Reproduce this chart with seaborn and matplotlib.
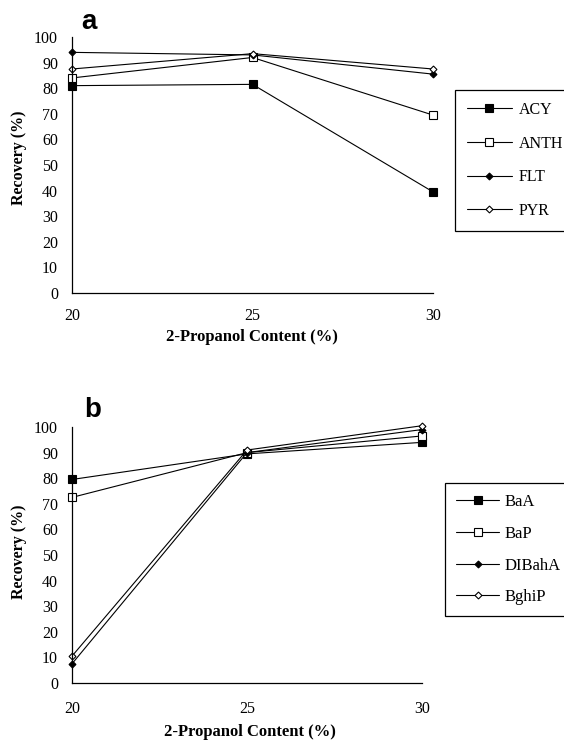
import matplotlib
matplotlib.use("Agg")
import matplotlib.pyplot as plt
import seaborn as sns
import pandas as pd

sns.set_theme(style="white")
plt.rcParams['font.family'] = ['Liberation Serif', 'DejaVu Serif']
plt.rcParams['text.color'] = 'black'
plt.rcParams['axes.labelcolor'] = 'black'
plt.rcParams['legend.labelcolor'] = 'black'

propanol = [20, 25, 30]

# panel a
names_a = ["ACY", "ANTH", "FLT", "PYR"]
acy = [81, 81.5, 39.5]
anth = [84, 92, 69.5]
flt = [94, 93, 85.5]
pyr = [87.5, 93.5, 87.5]

# panel b
names_b = ["BaA", "BaP", "DIBahA", "BghiP"]
baa = [79.5, 89.5, 94]
bap = [72.5, 90, 96.5]
dibaha = [7.5, 90, 99]
bghip = [10.5, 91, 100.5]

yticks = [0, 10, 20, 30, 40, 50, 60, 70, 80, 90, 100]
xticks = [20, 25, 30]

styles = [
    dict(marker="s", mfc="black", ms=5.5),
    dict(marker="s", mfc="white", ms=5.5),
    dict(marker="D", mfc="black", ms=3.5),
    dict(marker="D", mfc="white", ms=3.5),
]

W, H = 564, 740
fig = plt.figure(figsize=(W / 100, H / 100), dpi=100)

def make_axes(left, right, top, bottom):
    return fig.add_axes([left / W, 1 - bottom / H, (right - left) / W, (bottom - top) / H])

ax_a = make_axes(72, 433, 37, 293)
ax_b = make_axes(72, 422, 427, 683)

def draw(ax, series, names, legend_xy, leg_kw, xpad):
    for vals, name, st in zip(series, names, styles):
        df = pd.DataFrame({"x": propanol, "y": vals})
        sns.lineplot(data=df, x="x", y="y", ax=ax, color="black", lw=0.8,
                     marker=st["marker"], markerfacecolor=st["mfc"],
                     markeredgecolor="black", markeredgewidth=0.8,
                     markersize=st["ms"], label=name, clip_on=False)
    ax.set_xlim(20, 30)
    ax.set_ylim(0, 100)
    ax.set_xticks(xticks)
    ax.set_yticks(yticks)
    for s in ["top", "right"]:
        ax.spines[s].set_visible(False)
    for s in ["left", "bottom"]:
        ax.spines[s].set_color("black")
        ax.spines[s].set_linewidth(0.9)
    ax.tick_params(axis="both", direction="inout", length=6, width=0.8,
                   colors="black", labelsize=11.5)
    ax.tick_params(axis="x", pad=xpad)
    ax.tick_params(axis="y", pad=7)
    ax.set_xlabel("2-Propanol Content (%)", fontsize=12, fontweight="bold", color="black")
    ax.set_ylabel("Recovery (%)", fontsize=11.5, fontweight="bold", color="black")
    leg = ax.legend(loc="upper left", bbox_to_anchor=legend_xy,
                    bbox_transform=fig.transFigure, frameon=True, fancybox=False,
                    edgecolor="black", borderaxespad=0, labelcolor="black", **leg_kw)
    leg.get_frame().set_linewidth(0.9)
    leg.get_frame().set_alpha(1)

draw(ax_a, [acy, anth, flt, pyr], names_a, (455 / W, 1 - 90 / H),
     dict(fontsize=11.5, handlelength=2.8, handletextpad=0.45,
          labelspacing=1.1, borderpad=0.75), 8)
draw(ax_b, [baa, bap, dibaha, bghip], names_b, (445 / W, 1 - 483 / H),
     dict(fontsize=12, handlelength=2.6, handletextpad=0.3,
          labelspacing=0.95, borderpad=0.65), 10)

# axis label positions (pixel centres from the reference)
def label_at(ax, left, right, top, bottom, xl, yl):
    w, h = right - left, bottom - top
    ax.xaxis.set_label_coords((xl[0] - left) / w, (bottom - xl[1]) / h)
    ax.yaxis.set_label_coords((yl[0] - left) / w, (bottom - yl[1]) / h)
    ax.xaxis.label.set_va("center")
    ax.yaxis.label.set_va("center")

label_at(ax_a, 72, 433, 37, 293, (252, 337), (19, 158))
label_at(ax_b, 72, 422, 427, 683, (250, 732), (19, 552))

fig.text(89 / W, 1 - 22 / H, "a", family=["Liberation Sans"], fontweight="bold",
         fontsize=20, ha="center", va="center", color="black")
fig.text(93 / W, 1 - 410 / H, "b", family=["Liberation Sans"], fontweight="bold",
         fontsize=20, ha="center", va="center", color="black")

fig.savefig("out.png", dpi=100)
